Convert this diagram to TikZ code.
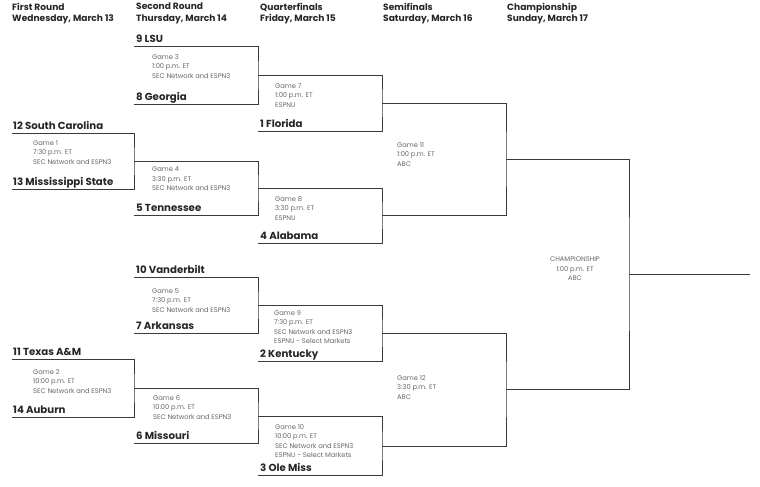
\documentclass[tikz,border=0pt]{standalone}
\usepackage{fontspec}
\setmainfont{Poppins}
\usetikzlibrary{positioning}
\definecolor{rule}{HTML}{3A3A3A}
\definecolor{ink}{HTML}{262626}
\definecolor{infogray}{HTML}{666666}

\begin{document}
\begin{tikzpicture}[x=1pt,y=-1pt,
  hdr/.style={font=\fontsize{9.1}{11.5}\selectfont\bfseries,text=ink,align=left,anchor=north west,inner sep=0pt},
  team/.style={font=\fontsize{10.2}{11}\selectfont\bfseries,text=ink,anchor=base west,inner sep=0pt},
  info/.style={font=\fontsize{6.7}{9.5}\selectfont,text=infogray,align=left,anchor=north west,inner sep=0pt},
  brk/.style={draw=rule,line width=1pt}]
\useasboundingbox (0,0) rectangle (760,487);
% round headers
\node[hdr] (h1) at (12,3) {First Round\\Wednesday, March 13};
\node[hdr] (h2) at (136,3) {Second Round\\Thursday, March 14};
\node[hdr] (h3) at (260,3) {Quarterfinals\\Friday, March 15};
\node[hdr] (h4) at (383,3) {Semifinals\\Saturday, March 16};
\node[hdr] (h5) at (507,3) {Championship\\Sunday, March 17};
% bracket corners
\coordinate (g1t) at (12,133);  \coordinate (g1b) at (12,189);  \coordinate (g1r) at (134,161);
\coordinate (g2t) at (12,359);  \coordinate (g2b) at (12,417);  \coordinate (g2r) at (134,388);
\coordinate (g3t) at (134,47);  \coordinate (g3b) at (134,104); \coordinate (g3r) at (258,75);
\coordinate (g4b) at (134,215); \coordinate (g4r) at (258,188);
\coordinate (g5t) at (134,277); \coordinate (g5b) at (134,333); \coordinate (g5r) at (258,305);
\coordinate (g6b) at (134,443); \coordinate (g6r) at (258,416);
\coordinate (g7b) at (258,131); \coordinate (g7r) at (382,103);
\coordinate (g8b) at (258,243); \coordinate (g8r) at (382,215);
\coordinate (g9b) at (258,361); \coordinate (g9r) at (382,333);
\coordinate (g10b) at (258,475); \coordinate (g10r) at (382,446);
\coordinate (g11r) at (506,159);
\coordinate (g12r) at (506,389);
\coordinate (chr) at (629,274);
\coordinate (champ) at (750,274);
% first round
\draw[brk] (g1t) -| (g1r) |- (g1b);
\draw[brk] (g2t) -| (g2r) |- (g2b);
\node[team] (sc) at (13,129) {12 South Carolina};
\node[team] (msst) at (13,185) {13 Mississippi State};
\node[team] (tamu) at (13,355) {11 Texas A\&M};
\node[team] (aub) at (13,413) {14 Auburn};
\node[info] (game1) at (33,140) {Game 1\\7:30 p.m. ET\\SEC Network and ESPN3};
\node[info] (game2) at (33,369) {Game 2\\10:00 p.m. ET\\SEC Network and ESPN3};
% second round
\draw[brk] (g3t) -| (g3r) |- (g3b);
\draw[brk] (g1r) -| (g4r) |- (g4b);
\draw[brk] (g5t) -| (g5r) |- (g5b);
\draw[brk] (g2r) -| (g6r) |- (g6b);
\node[team] (lsu) at (136,43) {9 LSU};
\node[team] (uga) at (136,100) {8 Georgia};
\node[team] (tenn) at (136,211) {5 Tennessee};
\node[team] (vandy) at (136,273) {10 Vanderbilt};
\node[team] (ark) at (136,329) {7 Arkansas};
\node[team] (mizzou) at (136,439) {6 Missouri};
\node[info] (game3) at (152,54) {Game 3\\1:00 p.m. ET\\SEC Network and ESPN3};
\node[info] (game4) at (152,167) {Game 4\\3:30 p.m. ET\\SEC Network and ESPN3};
\node[info] (game5) at (152,288) {Game 5\\7:30 p.m. ET\\SEC Network and ESPN3};
\node[info] (game6) at (153,395) {Game 6\\10:00 p.m. ET\\SEC Network and ESPN3};
% quarterfinals
\draw[brk] (g3r) -| (g7r) |- (g7b);
\draw[brk] (g4r) -| (g8r) |- (g8b);
\draw[brk] (g5r) -| (g9r) |- (g9b);
\draw[brk] (g6r) -| (g10r) |- (g10b);
\node[team] (fla) at (260,127) {1 Florida};
\node[team] (bama) at (260,239) {4 Alabama};
\node[team] (uk) at (260,357) {2 Kentucky};
\node[team] (olemiss) at (260,471) {3 Ole Miss};
\node[info] (game7) at (275,83) {Game 7\\1:00 p.m. ET\\ESPNU};
\node[info] (game8) at (275,196) {Game 8\\3:30 p.m. ET\\ESPNU};
\node[info] (game9) at (274,310) {Game 9\\7:30 p.m. ET\\SEC Network and ESPN3\\ESPNU - Select Markets};
\node[info] (game10) at (275,424) {Game 10\\10:00 p.m. ET\\SEC Network and ESPN3\\ESPNU - Select Markets};
% semifinals and final
\draw[brk] (g7r) -| (g11r) |- (g8r);
\draw[brk] (g9r) -| (g12r) |- (g10r);
\draw[brk] (g11r) -| (chr) |- (g12r);
\draw[brk] (chr) -- (champ);
\node[info] (game11) at (397,142) {Game 11\\1:00 p.m. ET\\ABC};
\node[info] (game12) at (397,375) {Game 12\\3:30 p.m. ET\\ABC};
\node[info,anchor=north,align=center] (final) at (575,257) {CHAMPIONSHIP\\1:00 p.m. ET\\ABC};
\end{tikzpicture}
\end{document}
